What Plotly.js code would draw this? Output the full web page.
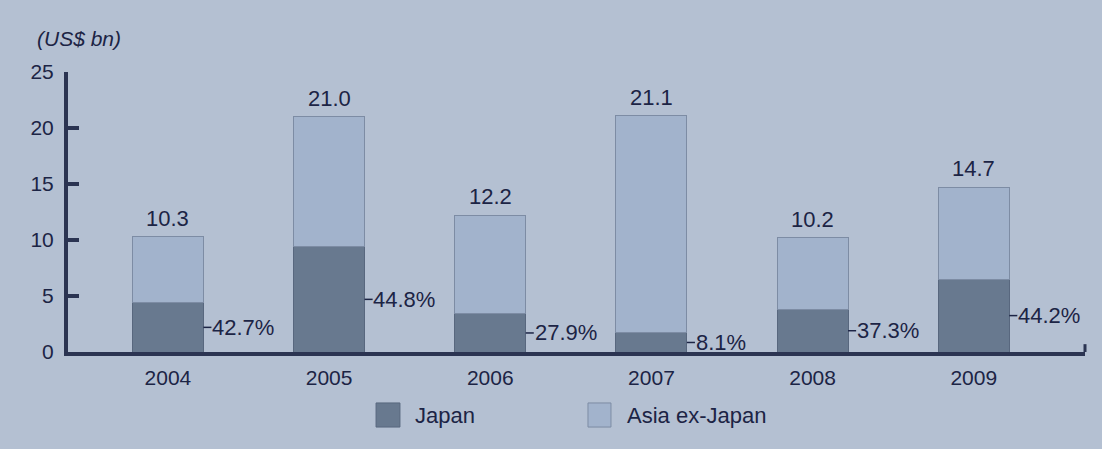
<!DOCTYPE html>
<html>
<head>
<meta charset="utf-8">
<script src="https://cdn.plot.ly/plotly-3.0.1.min.js"></script>
<style>
html,body{margin:0;padding:0;background:#b4c0d2;}
#chart{width:1102px;height:449px;}
</style>
</head>
<body>
<div id="chart"></div>
<script>
const years = ['2004','2005','2006','2007','2008','2009'];
const totals = [10.3, 21.0, 12.2, 21.1, 10.2, 14.7];
const japan = [4.4, 9.4, 3.4, 1.7, 3.8, 6.5];
const asiaExJapan = [5.9, 11.6, 8.8, 19.4, 6.4, 8.2];
const japanShareLabels = ['42.7%', '44.8%', '27.9%', '8.1%', '37.3%', '44.2%'];
const totalLabels = ['10.3', '21.0', '12.2', '21.1', '10.2', '14.7'];
const seriesNames = ['Japan', 'Asia ex-Japan'];
const tickVals = [0, 5, 10, 15, 20, 25];

const FONT = 'Liberation Sans, Arial, sans-serif';
const textColor = '#1c2445';
const axisColor = '#2b3452';
const japanColor = '#68798f';
const asiaColor = '#a2b3cc';
const barW = 0.44;

const traces = [
  {
    type: 'bar', name: seriesNames[0], x: years, y: japan, width: barW,
    marker: {color: japanColor, line: {color: '#58677e', width: 1}},
    hoverinfo: 'skip', showlegend: false
  },
  {
    type: 'bar', name: seriesNames[1], x: years, y: asiaExJapan, width: barW,
    marker: {color: asiaColor, line: {color: '#7d8ca4', width: 1}},
    hoverinfo: 'skip', showlegend: false
  }
];

const annotations = [];
const shapes = [
  {type: 'line', xref: 'paper', yref: 'y', x0: 1, x1: 1, y0: 0, y1: 0.7,
   line: {color: axisColor, width: 3}}
];
years.forEach((yr, i) => {
  annotations.push({
    x: i, y: totals[i], xref: 'x', yref: 'y', text: totalLabels[i],
    showarrow: false, yanchor: 'bottom', yshift: 4,
    font: {family: FONT, size: 22, color: textColor}
  });
  shapes.push({type: 'line', xref: 'x', yref: 'y',
    x0: i + barW / 2, x1: i + barW / 2 + 0.05, y0: japan[i] / 2, y1: japan[i] / 2,
    line: {color: textColor, width: 1.5}});
  annotations.push({
    x: i + barW / 2 + 0.055, y: japan[i] / 2, xref: 'x', yref: 'y', text: japanShareLabels[i],
    showarrow: false, xanchor: 'left', yanchor: 'middle', xshift: -2,
    font: {family: FONT, size: 22, color: textColor}
  });
});
annotations.push({
  xref: 'paper', yref: 'paper', x: -0.032, y: 1.121, xanchor: 'left', yanchor: 'middle',
  text: '<i>(US$ bn)</i>', showarrow: false,
  font: {family: FONT, size: 21, color: textColor}
});

// custom legend
const legendSwatchX = [[0.3029, 0.3264], [0.5113, 0.5339]];
const legendTextX = [0.3392, 0.5477];
const legendColors = [japanColor, asiaColor];
seriesNames.forEach((nm, k) => {
  shapes.push({type: 'rect', xref: 'paper', yref: 'paper',
    x0: legendSwatchX[k][0], x1: legendSwatchX[k][1], y0: -0.268, y1: -0.182,
    fillcolor: legendColors[k], line: {color: k === 0 ? '#58677e' : '#7d8ca4', width: 1}});
  annotations.push({xref: 'paper', yref: 'paper', x: legendTextX[k], y: -0.225,
    xanchor: 'left', yanchor: 'middle', text: nm, showarrow: false,
    font: {family: FONT, size: 22, color: textColor}});
});

const layout = {
  width: 1102, height: 449,
  margin: {l: 68, r: 17, t: 72, b: 97},
  paper_bgcolor: '#b4c0d2', plot_bgcolor: '#b4c0d2',
  barmode: 'stack', bargap: 0,
  font: {family: FONT, size: 21, color: textColor},
  xaxis: {
    type: 'category', range: [-0.62, 5.69], showline: true, linewidth: 4, linecolor: axisColor,
    ticks: '', showgrid: false, zeroline: false, fixedrange: true, ticklabelstandoff: 4,
    tickfont: {size: 21, color: textColor}
  },
  yaxis: {
    range: [0, 25], tickvals: tickVals, showline: true, linewidth: 4, linecolor: axisColor,
    ticks: 'inside', ticklen: 11, tickwidth: 4, tickcolor: axisColor,
    showgrid: false, zeroline: false, fixedrange: true, ticklabelstandoff: 6,
    tickfont: {size: 21, color: textColor}
  },
  shapes: shapes,
  showlegend: false,
  annotations: annotations
};

Plotly.newPlot('chart', traces, layout, {displayModeBar: false, staticPlot: true});
</script>
</body>
</html>
